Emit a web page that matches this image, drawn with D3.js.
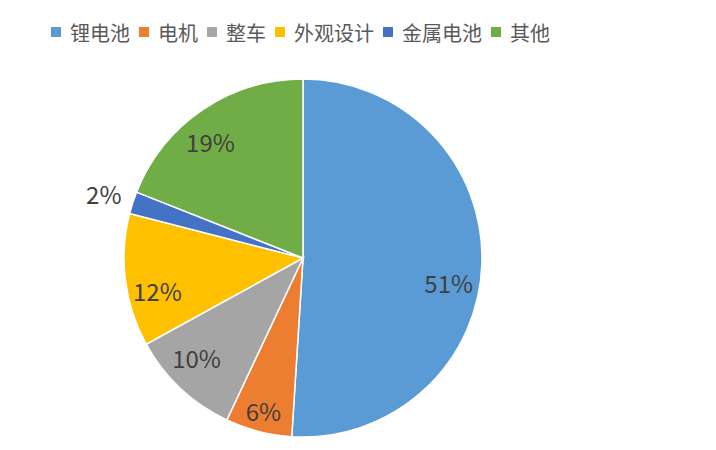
<!DOCTYPE html>
<html>
<head>
<meta charset="utf-8">
<script src="https://cdn.jsdelivr.net/npm/d3@7/dist/d3.min.js"></script>
<style>
  body { margin: 0; background: #fff; }
  svg { display: block; font-family: "Noto Sans CJK SC", "Noto Sans", sans-serif; }
</style>
</head>
<body>
<svg id="chart" width="716" height="450"></svg>
<script>
// 数据
const categories = ['锂电池', '电机', '整车', '外观设计', '金属电池', '其他'];
const values = [51, 6, 10, 12, 2, 19];
const colors = ['#5B9BD5', '#ED7D31', '#A5A5A5', '#FFC000', '#4472C4', '#70AD47'];

const svg = d3.select('#chart');
const cx = 303, cy = 258, radius = 179;

const data = categories.map((name, i) => ({ name, value: values[i], color: colors[i] }));

const pie = d3.pie().value(d => d.value).sort(null);
const arc = d3.arc().innerRadius(0).outerRadius(radius);

const g = svg.append('g').attr('transform', `translate(${cx},${cy})`);
const arcs = pie(data);

g.selectAll('path')
  .data(arcs)
  .enter()
  .append('path')
  .attr('d', arc)
  .attr('fill', d => d.data.color)
  .attr('stroke', '#fff')
  .attr('stroke-width', 1.5);

// 标签：小扇区放在外侧，其余按 Excel 最佳位置微调
const inner = d3.arc().innerRadius(radius * 0.82).outerRadius(radius * 0.82);
const outer = d3.arc().innerRadius(radius * 1.17).outerRadius(radius * 1.17);
const nudge = {
  '锂电池': [-1, 20],
  '电机': [-3, 10],
  '整车': [-6, -7],
  '外观设计': [0, 14],
  '金属电池': [0, 0],
  '其他': [-10, 5]
};

g.selectAll('text.label')
  .data(arcs)
  .enter()
  .append('text')
  .attr('class', 'label')
  .attr('transform', d => {
    const p = (d.data.value < 5 ? outer : inner).centroid(d);
    const n = nudge[d.data.name] || [0, 0];
    return `translate(${p[0] + n[0]},${p[1] + n[1]})`;
  })
  .attr('text-anchor', 'middle')
  .attr('dominant-baseline', 'central')
  .attr('font-size', '24px')
  .attr('fill', '#404040')
  .text(d => d.data.value + '%');

// 图例
const legend = svg.append('g').attr('transform', 'translate(51,32)');
let x = 0;
data.forEach(d => {
  const item = legend.append('g').attr('transform', `translate(${x},0)`);
  item.append('rect')
    .attr('x', 0).attr('y', -5)
    .attr('width', 10).attr('height', 10)
    .attr('fill', d.color);
  const t = item.append('text')
    .attr('x', 19).attr('y', 0)
    .attr('dominant-baseline', 'central')
    .attr('font-size', '20px')
    .attr('fill', '#595959')
    .text(d.name);
  x += 19 + t.node().getComputedTextLength() + 9;
});
</script>
</body>
</html>
